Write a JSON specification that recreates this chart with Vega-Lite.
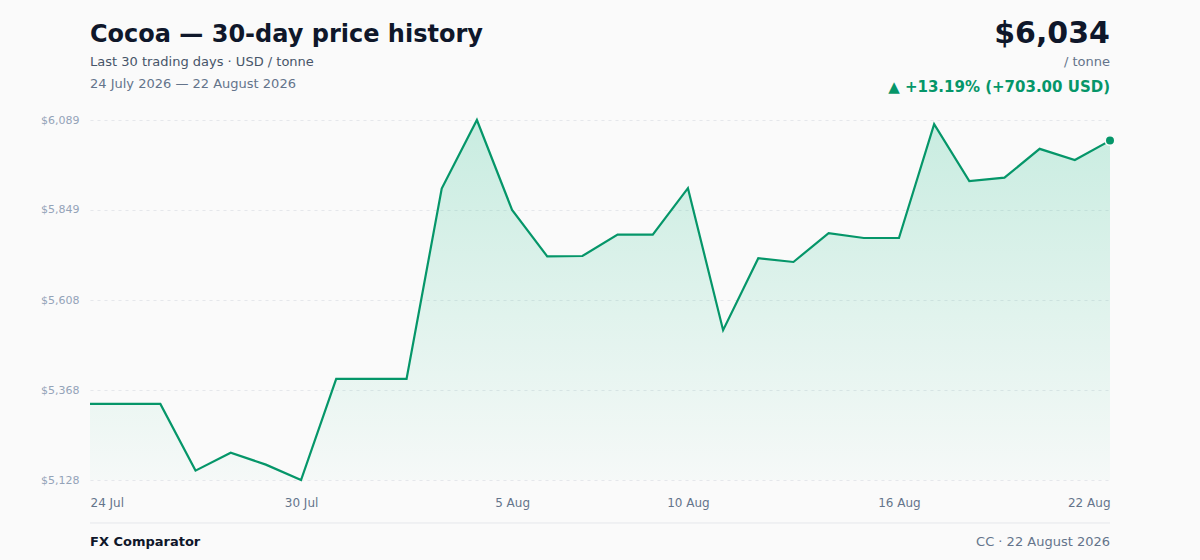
{
  "$schema": "https://vega.github.io/schema/vega-lite/v6.json",
  "width": 1020,
  "height": 360,
  "autosize": "none",
  "padding": {"left": 90, "top": 120, "right": 90, "bottom": 80},
  "background": "#fafafa",
  "config": {
    "font": "DejaVu Sans",
    "view": {"stroke": null}
  },
  "data": {
    "values": [
      {"date": "2026-07-24", "price": 5331},
      {"date": "2026-07-25", "price": 5331},
      {"date": "2026-07-26", "price": 5331},
      {"date": "2026-07-27", "price": 5153},
      {"date": "2026-07-28", "price": 5201},
      {"date": "2026-07-29", "price": 5169},
      {"date": "2026-07-30", "price": 5128},
      {"date": "2026-07-31", "price": 5398},
      {"date": "2026-08-01", "price": 5398},
      {"date": "2026-08-02", "price": 5398},
      {"date": "2026-08-03", "price": 5906},
      {"date": "2026-08-04", "price": 6089},
      {"date": "2026-08-05", "price": 5849},
      {"date": "2026-08-06", "price": 5725},
      {"date": "2026-08-07", "price": 5726},
      {"date": "2026-08-08", "price": 5783},
      {"date": "2026-08-09", "price": 5783},
      {"date": "2026-08-10", "price": 5907},
      {"date": "2026-08-11", "price": 5528},
      {"date": "2026-08-12", "price": 5720},
      {"date": "2026-08-13", "price": 5710},
      {"date": "2026-08-14", "price": 5787},
      {"date": "2026-08-15", "price": 5774},
      {"date": "2026-08-16", "price": 5774},
      {"date": "2026-08-17", "price": 6078},
      {"date": "2026-08-18", "price": 5926},
      {"date": "2026-08-19", "price": 5935},
      {"date": "2026-08-20", "price": 6012},
      {"date": "2026-08-21", "price": 5982},
      {"date": "2026-08-22", "price": 6034}
    ],
    "format": {"parse": {"date": "date"}}
  },
  "encoding": {
    "x": {
      "field": "date",
      "type": "temporal",
      "scale": {"type": "utc", "domain": [{"year": 2026, "month": 7, "date": 24, "utc": true}, {"year": 2026, "month": 8, "date": 22, "utc": true}]},
      "axis": {
        "title": null,
        "format": "%-d %b",
        "values": [
          {"year": 2026, "month": 7, "date": 24, "utc": true},
          {"year": 2026, "month": 7, "date": 30, "utc": true},
          {"year": 2026, "month": 8, "date": 5, "utc": true},
          {"year": 2026, "month": 8, "date": 10, "utc": true},
          {"year": 2026, "month": 8, "date": 16, "utc": true},
          {"year": 2026, "month": 8, "date": 22, "utc": true}
        ],
        "labelFlush": true,
        "labelColor": "#64748b",
        "labelFontSize": 12,
        "labelPadding": 17,
        "ticks": false,
        "domain": false,
        "grid": false
      }
    },
    "y": {
      "field": "price",
      "type": "quantitative",
      "scale": {"domain": [5128, 6089], "nice": false, "zero": false},
      "axis": {
        "title": null,
        "values": [5128, 5368, 5608, 5849, 6089],
        "format": "$,.0f",
        "labelColor": "#94a3b8",
        "labelFontSize": 11,
        "labelPadding": 11,
        "ticks": false,
        "domain": false,
        "grid": true,
        "gridColor": "#e5e7eb",
        "gridDash": [3, 4],
        "gridWidth": 1
      }
    }
  },
  "layer": [
    {
      "mark": {
        "type": "area",
        "fill": {
          "gradient": "linear",
          "x1": 0, "y1": 0, "x2": 0, "y2": 1,
          "stops": [
            {"offset": 0, "color": "rgba(16,185,129,0.21)"},
            {"offset": 1, "color": "rgba(16,185,129,0.02)"}
          ]
        }
      },
      "encoding": {"y2": {"datum": 5128}}
    },
    {
      "mark": {"type": "line", "color": "#059669", "strokeWidth": 2.2, "strokeJoin": "miter"}
    },
    {
      "transform": [
        {"joinaggregate": [{"op": "max", "field": "date", "as": "maxd"}]},
        {"filter": "time(datum.date) === time(datum.maxd)"}
      ],
      "mark": {"type": "point", "filled": true, "color": "#059669", "size": 90, "opacity": 1, "stroke": "#fafafa", "strokeWidth": 1.5}
    },
    {
      "data": {"values": [{}]},
      "mark": {"type": "text", "text": "Cocoa — 30-day price history", "align": "left", "baseline": "alphabetic", "fontSize": 24, "fontWeight": "bold", "color": "#0f172a"},
      "encoding": {"x": {"value": 0}, "y": {"value": -78}}
    },
    {
      "data": {"values": [{}]},
      "mark": {"type": "text", "text": "Last 30 trading days · USD / tonne", "align": "left", "baseline": "alphabetic", "fontSize": 13, "color": "#475569"},
      "encoding": {"x": {"value": 0}, "y": {"value": -54}}
    },
    {
      "data": {"values": [{}]},
      "mark": {"type": "text", "text": "24 July 2026 — 22 August 2026", "align": "left", "baseline": "alphabetic", "fontSize": 13, "color": "#64748b"},
      "encoding": {"x": {"value": 0}, "y": {"value": -32}}
    },
    {
      "data": {"values": [{}]},
      "mark": {"type": "text", "text": "$6,034", "align": "right", "baseline": "alphabetic", "fontSize": 30, "fontWeight": "bold", "color": "#0f172a"},
      "encoding": {"x": {"value": 1020}, "y": {"value": -77}}
    },
    {
      "data": {"values": [{}]},
      "mark": {"type": "text", "text": "/ tonne", "align": "right", "baseline": "alphabetic", "fontSize": 13, "color": "#64748b"},
      "encoding": {"x": {"value": 1020}, "y": {"value": -54}}
    },
    {
      "data": {"values": [{}]},
      "mark": {"type": "text", "text": "▲ +13.19% (+703.00 USD)", "align": "right", "baseline": "alphabetic", "fontSize": 15, "fontWeight": "bold", "color": "#059669"},
      "encoding": {"x": {"value": 1020}, "y": {"value": -28}}
    },
    {
      "data": {"values": [{}]},
      "mark": {"type": "rule", "color": "#e5e7eb", "strokeWidth": 1},
      "encoding": {"x": {"value": 0}, "x2": {"value": 1020}, "y": {"value": 403}}
    },
    {
      "data": {"values": [{}]},
      "mark": {"type": "text", "text": "FX Comparator", "align": "left", "baseline": "alphabetic", "fontSize": 13, "fontWeight": "bold", "color": "#0f172a"},
      "encoding": {"x": {"value": 0}, "y": {"value": 426}}
    },
    {
      "data": {"values": [{}]},
      "mark": {"type": "text", "text": "CC · 22 August 2026", "align": "right", "baseline": "alphabetic", "fontSize": 13, "color": "#64748b"},
      "encoding": {"x": {"value": 1020}, "y": {"value": 426}}
    }
  ]
}
